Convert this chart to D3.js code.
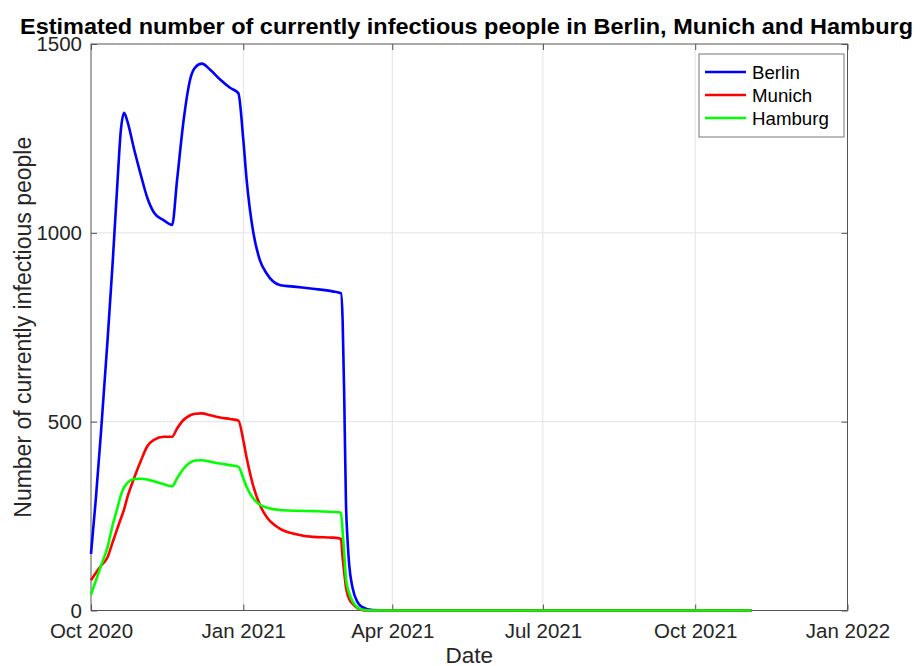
<!DOCTYPE html>
<html>
<head>
<meta charset="utf-8">
<script src="https://cdn.jsdelivr.net/npm/d3@7"></script>
<style>
  body { margin: 0; background: #fff; }
  text { font-family: 'Liberation Sans', Arial, Helvetica, sans-serif; }
</style>
</head>
<body>
<svg id="vis" width="921" height="666"></svg>
<script>
const svg = d3.select('#vis');
const width = +svg.attr('width');
const height = +svg.attr('height');
// plot box as in the MATLAB figure
const margin = { top: 44, right: 73.5, bottom: 55.5, left: 91 };
const plotWidth = width - margin.left - margin.right;
const plotHeight = height - margin.top - margin.bottom;

const dates = [
  '2020-10-01', '2020-10-04', '2020-10-07', '2020-10-11', '2020-10-14', '2020-10-17',
  '2020-10-19', '2020-10-21', '2020-10-23', '2020-10-27', '2020-10-31', '2020-11-04',
  '2020-11-08', '2020-11-14', '2020-11-19', '2020-11-22', '2020-11-26', '2020-11-30',
  '2020-12-03', '2020-12-07', '2020-12-12', '2020-12-18', '2020-12-24', '2020-12-29',
  '2021-01-01', '2021-01-03', '2021-01-07', '2021-01-11', '2021-01-15', '2021-01-23',
  '2021-02-02', '2021-02-12', '2021-02-24', '2021-03-01', '2021-03-02', '2021-03-03',
  '2021-03-04', '2021-03-05', '2021-03-06', '2021-03-08', '2021-03-11', '2021-03-14',
  '2021-03-20', '2021-03-30', '2021-11-04'
];
const berlin = [
  150, 300, 470, 716, 915, 1135, 1270, 1318, 1295, 1222, 1155, 1093, 1054, 1033, 1021,
  1140, 1300, 1408, 1438, 1448, 1432, 1406, 1384, 1370, 1247, 1141, 1002, 928, 893, 862,
  857, 852, 845, 840, 770, 560, 290, 185, 120, 60, 22, 9, 1, 0, 0
];
const munich = [
  80, 100, 118, 141, 180, 218, 243, 268, 300, 350, 395, 435, 452, 460, 460,
  482, 505, 517, 521, 522, 517, 511, 507, 503, 451, 405, 330, 280, 248, 217,
  202, 195, 193, 190, 140, 100, 62, 42, 30, 18, 6, 1, 0, 0, 0
];
const hamburg = [
  42, 80, 118, 168, 225, 272, 305, 326, 338, 348, 349, 347, 342, 334, 329,
  350, 376, 392, 397, 398, 394, 389, 385, 381, 350, 327, 297, 280, 273, 266,
  264, 263, 261, 259, 210, 150, 85, 60, 45, 24, 8, 2, 0, 0, 0
];
const cities = ['Berlin', 'Munich', 'Hamburg'];
const xTicks = ['2020-10-01', '2021-01-01', '2021-04-01', '2021-07-01', '2021-10-01', '2022-01-01'];
const yTicks = [0, 500, 1000, 1500];

const parse = d3.utcParse('%Y-%m-%d');
const colorScale = d3.scaleOrdinal().domain(cities).range(['#0000ff', '#ff0000', '#00ff00']);

const series = [berlin, munich, hamburg].map((vals, i) => ({
  name: cities[i],
  values: vals.map((v, j) => ({ date: parse(dates[j]), value: v })),
}));

const x = d3
  .scaleUtc()
  .domain([parse('2020-10-01'), parse('2022-01-01')])
  .range([margin.left, margin.left + plotWidth]);

const y = d3
  .scaleLinear()
  .domain([0, 1500])
  .range([margin.top + plotHeight, margin.top]);

const axisColor = '#262626';

// grid
svg
  .append('g')
  .selectAll('line.vgrid')
  .data(xTicks.slice(1, -1))
  .enter()
  .append('line')
  .attr('x1', d => x(parse(d)))
  .attr('x2', d => x(parse(d)))
  .attr('y1', margin.top)
  .attr('y2', margin.top + plotHeight)
  .attr('stroke', '#e3e3e3')
  .attr('stroke-width', 1);

svg
  .append('g')
  .selectAll('line.hgrid')
  .data(yTicks.slice(1, -1))
  .enter()
  .append('line')
  .attr('x1', margin.left)
  .attr('x2', margin.left + plotWidth)
  .attr('y1', d => y(d))
  .attr('y2', d => y(d))
  .attr('stroke', '#e3e3e3')
  .attr('stroke-width', 1);

// axes (ticks inward, mirrored on top/right)
svg
  .append('g')
  .attr('transform', `translate(0,${margin.top + plotHeight})`)
  .call(
    d3.axisBottom(x)
      .tickValues(xTicks.map(parse))
      .tickFormat(d3.utcFormat('%b %Y'))
      .tickSizeInner(-6)
      .tickSizeOuter(0)
      .tickPadding(13)
  );
svg
  .append('g')
  .attr('transform', `translate(${margin.left},0)`)
  .call(
    d3.axisLeft(y)
      .tickValues(yTicks)
      .tickFormat(d3.format('d'))
      .tickSizeInner(-6)
      .tickSizeOuter(0)
      .tickPadding(9)
  );
svg
  .append('g')
  .attr('transform', `translate(0,${margin.top})`)
  .call(d3.axisTop(x).tickValues(xTicks.map(parse)).tickFormat('').tickSizeInner(-6).tickSizeOuter(0));
svg
  .append('g')
  .attr('transform', `translate(${margin.left + plotWidth},0)`)
  .call(d3.axisRight(y).tickValues(yTicks).tickFormat('').tickSizeInner(-6).tickSizeOuter(0));

svg.selectAll('.domain').remove();
svg.selectAll('.tick line').attr('stroke', axisColor).attr('stroke-width', 0.8);
svg
  .selectAll('.tick text')
  .attr('fill', axisColor)
  .style('font-size', '20.5px')
  .style('font-family', "'Liberation Sans', Arial, sans-serif");

svg
  .append('rect')
  .attr('x', margin.left)
  .attr('y', margin.top)
  .attr('width', plotWidth)
  .attr('height', plotHeight)
  .attr('fill', 'none')
  .attr('stroke', '#555')
  .attr('stroke-width', 1);

// lines (on top of the box so the zero stretch shows)
const line = d3
  .line()
  .x(d => x(d.date))
  .y(d => y(d.value))
  .curve(d3.curveMonotoneX);

svg
  .append('g')
  .selectAll('path')
  .data(series)
  .enter()
  .append('path')
  .attr('d', d => line(d.values))
  .attr('fill', 'none')
  .attr('stroke', d => colorScale(d.name))
  .attr('stroke-width', 2.6)
  .attr('stroke-linejoin', 'round');

// axis labels
svg
  .append('text')
  .attr('x', margin.left + plotWidth / 2)
  .attr('y', 663)
  .attr('text-anchor', 'middle')
  .attr('fill', axisColor)
  .style('font-size', '22.5px')
  .text('Date');

svg
  .append('text')
  .attr('transform', `translate(31,${margin.top + plotHeight / 2}) rotate(-90)`)
  .attr('text-anchor', 'middle')
  .attr('fill', axisColor)
  .style('font-size', '23px')
  .text('Number of currently infectious people');

// title
svg
  .append('text')
  .attr('x', 466.5)
  .attr('y', 34)
  .attr('text-anchor', 'middle')
  .attr('fill', '#000')
  .attr('textLength', 893)
  .attr('lengthAdjust', 'spacingAndGlyphs')
  .style('font-size', '22.5px')
  .style('font-weight', 'bold')
  .text('Estimated number of currently infectious people in Berlin, Munich and Hamburg');

// legend
const legend = svg.append('g').attr('transform', 'translate(699,54)');
legend
  .append('rect')
  .attr('width', 145)
  .attr('height', 83)
  .attr('fill', '#fff')
  .attr('stroke', '#777')
  .attr('stroke-width', 1);

cities.forEach((city, i) => {
  legend
    .append('line')
    .attr('x1', 6)
    .attr('x2', 47)
    .attr('y1', 18 + i * 23)
    .attr('y2', 18 + i * 23)
    .attr('stroke', colorScale(city))
    .attr('stroke-width', 2.6);
  legend
    .append('text')
    .attr('x', 53)
    .attr('y', 18 + i * 23)
    .attr('dy', '0.35em')
    .attr('fill', '#000')
    .style('font-size', '18.7px')
    .text(city);
});
</script>
</body>
</html>
